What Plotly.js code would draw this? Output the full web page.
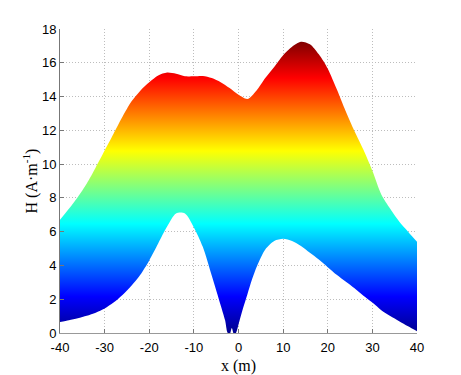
<!DOCTYPE html>
<html>
<head>
<meta charset="utf-8">
<script src="https://cdn.plot.ly/plotly-3.0.1.min.js"></script>
<style>html,body{margin:0;padding:0;background:#fff;}#chart{width:461px;height:375px;}</style>
</head>
<body>
<div id="chart"></div>
<script>
// Lower boundary of H(x)
var lowerX = [-40, -38, -36, -34, -32, -30, -28, -26, -24, -22, -20, -18, -16, -14, -12, -10, -8, -6, -4, -3, -2.5, -2.0, -1.5, -1.0, -0.5, 0, 1, 2, 3, 4.2, 6, 8, 10, 12, 14, 16, 18, 20, 22, 24, 26, 28, 30, 32, 34, 36, 38, 40];
var lowerY = [0.65, 0.75, 0.87, 1.02, 1.2, 1.45, 1.8, 2.25, 2.8, 3.45, 4.3, 5.3, 6.3, 7.08, 7.08, 6.25, 5.1, 3.4, 1.65, 0.75, 0.05, -0.1, 0.3, -0.1, 0.05, 0.5, 1.45, 2.3, 3.15, 4.0, 4.95, 5.45, 5.58, 5.45, 5.15, 4.75, 4.35, 3.9, 3.45, 3.05, 2.65, 2.2, 1.8, 1.35, 1.0, 0.7, 0.4, 0.1];
// Upper boundary of H(x)
var upperX = [-40, -38, -36, -34, -32, -30, -28, -26, -24, -22, -20, -18, -16, -14, -12, -10, -8, -6, -4, -2, 0, 2, 4, 6, 8, 10, 12, 14, 16, 18, 20, 22, 24, 26, 28, 30, 32, 34, 36, 38, 40];
var upperY = [6.7, 7.35, 8.05, 8.85, 9.8, 10.8, 11.8, 12.8, 13.7, 14.35, 14.85, 15.25, 15.42, 15.35, 15.2, 15.2, 15.22, 15.1, 14.85, 14.5, 14.1, 13.86, 14.35, 15.1, 15.75, 16.45, 16.95, 17.25, 17.1, 16.5, 15.65, 14.45, 13.15, 11.95, 10.85, 9.6, 8.2, 7.35, 6.6, 6.0, 5.4];
var xTicks = [-40, -30, -20, -10, 0, 10, 20, 30, 40];
var yTicks = [0, 2, 4, 6, 8, 10, 12, 14, 16, 18];

var jet = [
  [0, 'rgb(0,0,143)'],
  [0.125, 'rgb(0,0,255)'],
  [0.375, 'rgb(0,255,255)'],
  [0.625, 'rgb(255,255,0)'],
  [0.875, 'rgb(255,0,0)'],
  [1, 'rgb(128,0,0)']
];

var traces = [
  {x: lowerX, y: lowerY, mode: 'lines', line: {width: 0, shape: 'spline', smoothing: 0.8, color: 'rgba(0,0,0,0)'}, hoverinfo: 'skip', showlegend: false},
  {x: upperX, y: upperY, mode: 'lines', fill: 'tonexty',
   fillgradient: {type: 'vertical', colorscale: jet, start: 0, stop: 17.25},
   line: {width: 0, shape: 'spline', smoothing: 0.8, color: 'rgba(0,0,0,0)'}, hoverinfo: 'skip', showlegend: false}
];

var tickFont = {family: 'Liberation Sans, Arial, sans-serif', size: 13, color: '#000'};
var layout = {
  width: 461, height: 375,
  margin: {l: 60, r: 44, t: 29, b: 42},
  paper_bgcolor: '#fff', plot_bgcolor: '#fff',
  xaxis: {
    range: [-40, 40], tickvals: xTicks, ticktext: xTicks.map(String),
    ticks: 'inside', ticklen: 4, tickcolor: '#777',
    showline: true, linecolor: '#999', linewidth: 1, mirror: false,
    showgrid: true, gridcolor: '#bdbdbd', griddash: '1px,2px', gridwidth: 1, zeroline: false,
    tickfont: tickFont, ticklabelstandoff: 2,
    title: {text: 'x (m)', font: {family: 'Liberation Serif, Times New Roman, serif', size: 16, color: '#000'}, standoff: 7}
  },
  yaxis: {
    range: [0, 18], tickvals: yTicks, ticktext: yTicks.map(String),
    ticks: 'inside', ticklen: 4, tickcolor: '#777',
    showline: true, linecolor: '#777', linewidth: 1, mirror: false,
    showgrid: true, gridcolor: '#bdbdbd', griddash: '1px,2px', gridwidth: 1, zeroline: false,
    tickfont: tickFont,
    title: {text: 'H (A·m<sup>-1</sup>)', font: {family: 'Liberation Serif, Times New Roman, serif', size: 16, color: '#000'}, standoff: 0}
  }
};

Plotly.newPlot('chart', traces, layout, {displayModeBar: false, staticPlot: true});
</script>
</body>
</html>
